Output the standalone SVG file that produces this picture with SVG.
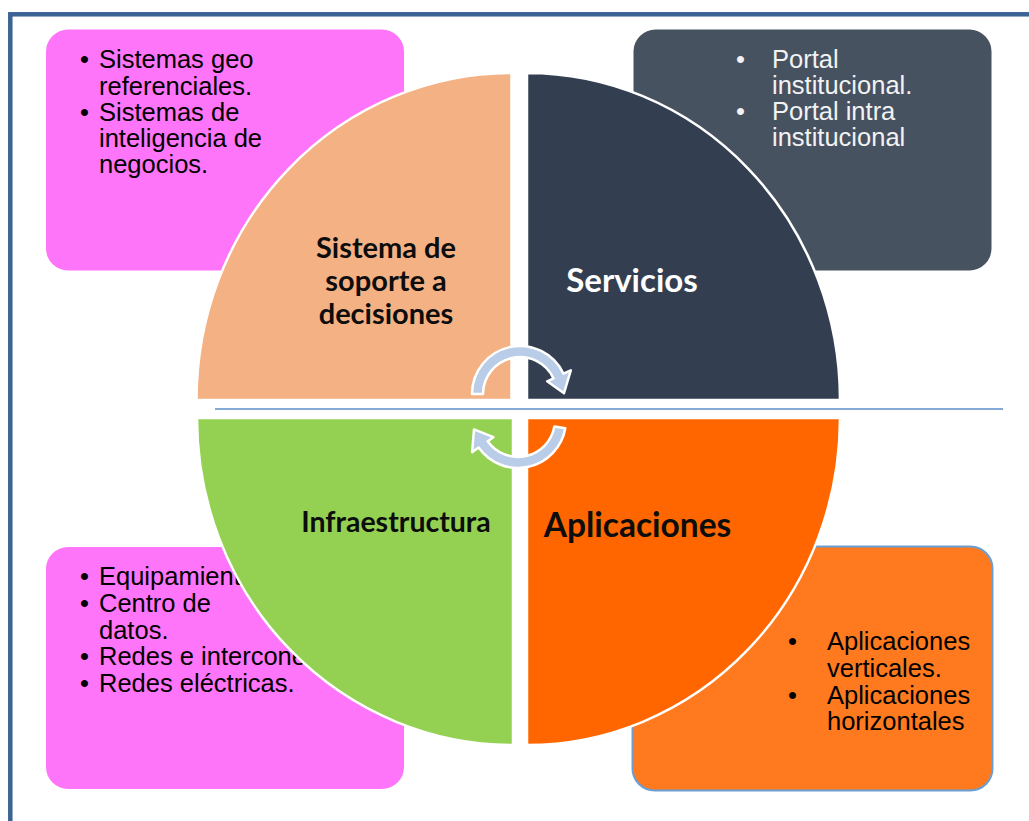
<svg xmlns="http://www.w3.org/2000/svg" width="1029" height="821" viewBox="0 0 1029 821">
<style>
.box-text{font-family:"Liberation Sans",Arial,sans-serif;font-size:25.5px;fill:#000}
.box-text-light{font-family:"Liberation Sans",Arial,sans-serif;font-size:25.5px;fill:#F2F2F2}
.quad{stroke:#FFFFFF;stroke-width:2.5}
.qlabel{font-family:Lato,"Open Sans",sans-serif;font-weight:bold;fill:#0D0D0D;text-anchor:middle}
.cyc{fill:#B9CDE8;stroke:#FFFFFF;stroke-width:2.5;stroke-linejoin:round}
</style>
<rect x="0" y="0" width="1029" height="821" fill="#FFFFFF"/>
<rect id="frame" x="10.3" y="14.3" width="1040" height="840" fill="none" stroke="#3B6394" stroke-width="4.5"/>

<g id="box-decisiones">
<rect x="46" y="29.5" width="358" height="241" rx="22" fill="#FF75F9"/>
<text class="box-text"><tspan x="80" y="68">•</tspan><tspan x="99" y="68">Sistemas geo</tspan><tspan x="99" y="94.5">referenciales.</tspan><tspan x="80" y="121">•</tspan><tspan x="99" y="121">Sistemas de</tspan><tspan x="99" y="147">inteligencia de</tspan><tspan x="99" y="173.3">negocios.</tspan></text>
</g>

<g id="box-servicios">
<rect x="633.5" y="29.5" width="358" height="241" rx="22" fill="#475261"/>
<text class="box-text-light"><tspan x="736" y="68">•</tspan><tspan x="772" y="68">Portal</tspan><tspan x="772" y="93.5">institucional.</tspan><tspan x="736" y="120">•</tspan><tspan x="772" y="120">Portal intra</tspan><tspan x="772" y="146">institucional</tspan></text>
</g>

<g id="box-infraestructura">
<rect x="46" y="547" width="358" height="242" rx="22" fill="#FF75F9"/>
<text class="box-text"><tspan x="80" y="585">•</tspan><tspan x="99" y="585">Equipamiento.</tspan><tspan x="80" y="611.7">•</tspan><tspan x="99" y="611.7">Centro de</tspan><tspan x="99" y="638.5">datos.</tspan><tspan x="80" y="665">•</tspan><tspan x="99" y="665">Redes e interconexión.</tspan><tspan x="80" y="691.7">•</tspan><tspan x="99" y="691.7">Redes eléctricas.</tspan></text>
</g>

<g id="box-aplicaciones">
<rect x="632.5" y="546.5" width="360" height="244" rx="22" fill="#FF7A1E" stroke="#6A9FD5" stroke-width="2"/>
<text class="box-text"><tspan x="788" y="650">•</tspan><tspan x="827" y="650">Aplicaciones</tspan><tspan x="827" y="677">verticales.</tspan><tspan x="788" y="704">•</tspan><tspan x="827" y="704">Aplicaciones</tspan><tspan x="827" y="730">horizontales</tspan></text>
</g>

<g id="quad-decisiones">
<path class="quad" d="M511.5,400 L196.5,400 A315,327 0 0 1 511.5,73 Z" fill="#F4B183"/>
<text class="qlabel" font-size="29"><tspan x="386" y="257.7">Sistema de</tspan><tspan x="386" y="290.7">soporte a</tspan><tspan x="386" y="324">decisiones</tspan></text>
</g>

<g id="quad-servicios">
<path class="quad" d="M527,400 L527,73 A313,327 0 0 1 840,400 Z" fill="#333F50"/>
<text class="qlabel" font-size="33" style="fill:#FFFFFF"><tspan x="632" y="291.7">Servicios</tspan></text>
</g>

<g id="quad-infraestructura">
<path class="quad" d="M513,418 L513,745 A316,327 0 0 1 197,418 Z" fill="#94D152"/>
<text class="qlabel" font-size="28.5"><tspan x="396" y="532.3">Infraestructura</tspan></text>
</g>

<g id="quad-aplicaciones">
<path class="quad" d="M527,418 L840,418 A313,327 0 0 1 527,745 Z" fill="#FF6600"/>
<text class="qlabel" font-size="33.5"><tspan x="637.5" y="536.7">Aplicaciones</tspan></text>
</g>

<g id="connectors">
<line x1="215" y1="409" x2="1003" y2="409" stroke="#5B8CC6" stroke-width="1.5"/>
<path class="cyc" d="M472,394 A48,48 0 0 1 563.5,373.7 L570.8,370.3 L564,393.2 L547.2,381.3 L553.5,378.4 A37,37 0 0 0 483,394 Z"/>
<path class="cyc" d="M565.3,428.3 A48,48 0 0 1 478.7,447.5 L472.1,452.1 L474,429.4 L493.4,437.2 L487.7,441.2 A37,37 0 0 0 554.4,426.4 Z"/>
</g>
</svg>
